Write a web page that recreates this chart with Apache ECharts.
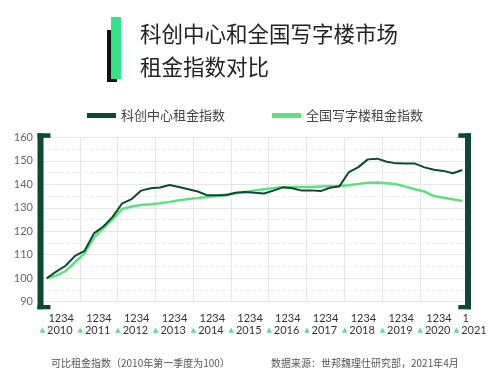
<!DOCTYPE html>
<html>
<head>
<meta charset="utf-8">
<script src="https://cdn.jsdelivr.net/npm/echarts@6/dist/echarts.min.js"></script>
<style>
html, body { margin: 0; padding: 0; background: #fff; }
#main { width: 500px; height: 377px; }
</style>
</head>
<body>
<div id="main"></div>
<script>
var years = ['2010', '2011', '2012', '2013', '2014', '2015', '2016', '2017', '2018', '2019', '2020', '2021'];
var quarters = ['1', '2', '3', '4'];

// 2010Q1 .. 2021Q1
var categories = [];
for (var y = 0; y < years.length - 1; y++) {
    for (var q = 0; q < 4; q++) categories.push(years[y] + 'Q' + quarters[q]);
}
categories.push('2021Q1');

var kechuang = [
    100, 102.8, 105.3, 109.5, 111.6, 119.1, 122, 126.2, 131.9, 133.7,
    137.3, 138.3, 138.6, 139.7, 138.8, 137.9, 136.9, 135.3, 135.3, 135.3,
    136.4, 136.7, 136.4, 136.1, 137.3, 138.7, 138.3, 137.3, 137.4, 137.1,
    138.5, 139.2, 145.2, 147.3, 150.6, 150.9, 149.6, 148.9, 148.8, 148.8,
    147.2, 146.2, 145.7, 144.7, 146.1
];
var national = [
    100, 101.1, 103, 106.8, 110.6, 117.3, 121.3, 125.2, 129.5, 130.5,
    131.2, 131.5, 131.9, 132.5, 133.2, 133.7, 134.1, 134.6, 135, 135.6,
    136.2, 136.7, 137.4, 137.9, 138.3, 138.7, 138.8, 138.8, 138.8, 139,
    139.2, 139.3, 139.6, 140.1, 140.7, 140.8, 140.4, 140, 139, 137.9,
    136.9, 135, 134.3, 133.6, 132.9
];

var darkGreen = '#0b4a30';
var lightGreen = '#5ee07f';
var numFont = 'Lato, "Noto Sans CJK SC", sans-serif';
var cjkFont = '"Noto Sans CJK SC", sans-serif';

var chartDom = document.getElementById('main');
var myChart = echarts.init(chartDom);
var option;

option = {
    animation: false,
    backgroundColor: '#ffffff',
    title: {
        text: '科创中心和全国写字楼市场\n租金指数对比',
        left: 140,
        top: 17,
        padding: 0,
        textStyle: {
            fontFamily: cjkFont,
            fontSize: 21.5,
            fontWeight: 'normal',
            lineHeight: 33,
            color: '#222222'
        }
    },
    legend: {
        left: 87,
        top: 109,
        padding: 0,
        itemWidth: 29,
        itemHeight: 5,
        itemGap: 47,
        icon: 'rect',
        data: ['科创中心租金指数', '全国写字楼租金指数'],
        textStyle: { fontFamily: cjkFont, fontSize: 13, color: '#444444' }
    },
    grid: {
        left: 42,
        right: 33,
        top: 137.3,
        bottom: 75.3
    },
    xAxis: [{
        type: 'category',
        data: categories,
        boundaryGap: true,
        axisLine: { show: false },
        axisTick: { show: false },
        splitLine: {
            show: true,
            interval: function (index) { return index % 4 === 0 && index < 44; },
            lineStyle: { color: '#e6e6e6', width: 1 }
        },
        axisLabel: {
            interval: 0,
            margin: 11,
            formatter: function (value, index) {
                if (index === 44) return '{e|' + quarters[0] + '}';
                if (index % 4 === 1) return '{q|' + quarters.join('') + '}';
                return '';
            },
            rich: {
                q: { fontFamily: numFont, fontSize: 11, color: '#333333', padding: [0, 0, 0, 10] },
                e: { fontFamily: numFont, fontSize: 11, color: '#333333', padding: [0, 0, 0, 7] }
            }
        }
    }, {
        type: 'category',
        data: categories,
        position: 'bottom',
        offset: 12,
        boundaryGap: true,
        axisLine: { show: false },
        axisTick: { show: false },
        axisLabel: {
            interval: 0,
            margin: 11,
            formatter: function (value, index) {
                if (index === 44) return '{te|▲}{y|' + value.slice(0, 4) + '}';
                if (index % 4 === 1) return '{t|▲}{y|' + value.slice(0, 4) + '}';
                return '';
            },
            rich: {
                t: { fontFamily: '"DejaVu Sans", sans-serif', fontSize: 7, color: lightGreen, padding: [0, 2, 0, 0] },
                te: { fontFamily: '"DejaVu Sans", sans-serif', fontSize: 7, color: lightGreen, padding: [0, 2, 0, 16] },
                y: { fontFamily: numFont, fontSize: 11, color: '#333333' }
            }
        }
    }],
    yAxis: {
        type: 'value',
        min: 90,
        max: 160,
        interval: 10,
        axisLine: { show: false },
        axisTick: { show: false },
        axisLabel: { fontFamily: numFont, fontSize: 11, color: '#666666', margin: 9 },
        splitLine: { lineStyle: { color: '#e6e6e6', width: 1 } },
        minorTick: { show: false, splitNumber: 2 },
        minorSplitLine: { show: true, lineStyle: { color: '#eeeeee', type: 'dashed', width: 1 } }
    },
    series: [{
        name: '科创中心租金指数',
        type: 'line',
        data: kechuang,
        symbol: 'none',
        z: 3,
        lineStyle: { color: darkGreen, width: 2 },
        itemStyle: { color: darkGreen }
    }, {
        name: '全国写字楼租金指数',
        type: 'line',
        data: national,
        symbol: 'none',
        z: 2,
        lineStyle: { color: lightGreen, width: 2.5 },
        itemStyle: { color: lightGreen }
    }],
    graphic: [
        // title marker
        { type: 'rect', shape: { x: 107, y: 30, width: 10, height: 52 }, style: { fill: '#111111' } },
        { type: 'rect', shape: { x: 111, y: 17, width: 10, height: 62 }, style: { fill: '#33e38a' } },
        // left bracket
        { type: 'rect', shape: { x: 37.5, y: 133.3, width: 6, height: 176 }, style: { fill: darkGreen }, z: 10 },
        { type: 'rect', shape: { x: 37.5, y: 133.3, width: 13, height: 4.5 }, style: { fill: darkGreen }, z: 10 },
        { type: 'rect', shape: { x: 37.5, y: 305, width: 13, height: 4.3 }, style: { fill: darkGreen }, z: 10 },
        // right bracket
        { type: 'rect', shape: { x: 465, y: 133.3, width: 6, height: 176 }, style: { fill: darkGreen }, z: 10 },
        { type: 'rect', shape: { x: 458.3, y: 133.3, width: 12.7, height: 4.5 }, style: { fill: darkGreen }, z: 10 },
        { type: 'rect', shape: { x: 458.3, y: 305, width: 12.7, height: 4.3 }, style: { fill: darkGreen }, z: 10 },
        // footnotes
        {
            type: 'text', left: 51, top: 358,
            style: { text: '可比租金指数（2010年第一季度为100）', font: '10px "Noto Sans CJK SC", sans-serif', fill: '#555555' }
        },
        {
            type: 'text', left: 271, top: 358,
            style: { text: '数据来源：世邦魏理仕研究部，2021年4月', font: '10px "Noto Sans CJK SC", sans-serif', fill: '#555555' }
        }
    ]
};

option && myChart.setOption(option);
</script>
</body>
</html>
